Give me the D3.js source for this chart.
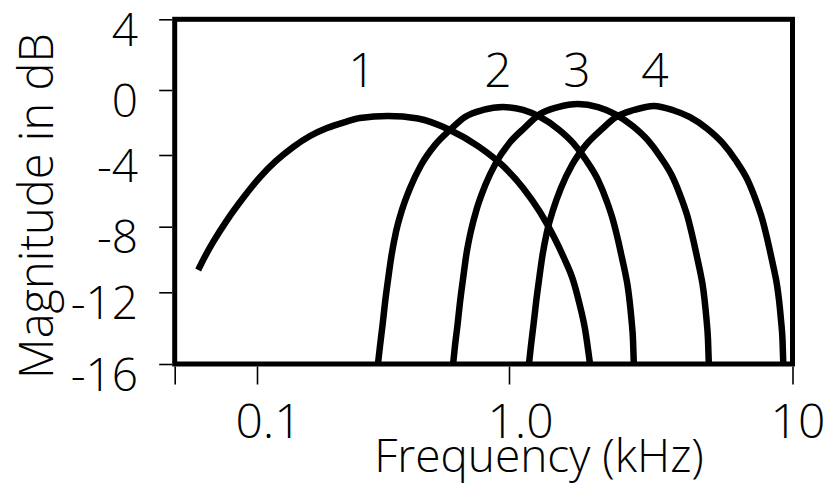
<!DOCTYPE html>
<html>
<head>
<meta charset="utf-8">
<script src="https://cdn.jsdelivr.net/npm/d3@7"></script>
<style>
  html, body { margin: 0; padding: 0; background: #fff; }
  svg { display: block; }
  svg text { font-family: "Open Sans", "Noto Sans", sans-serif; font-weight: 300; }
</style>
</head>
<body>
<svg id="chart" width="827" height="484"></svg>
<script>
// Band-pass filter responses (frequency in kHz, magnitude in dB)
const curveNames = ["1", "2", "3", "4"];

const freq1 = [0.0583, 0.0622, 0.0669, 0.0760, 0.0880, 0.1028, 0.1190, 0.139, 0.1623, 0.1896,
               0.2235, 0.2563, 0.331, 0.4354, 0.583, 0.7534, 0.947, 1.121, 1.286, 1.441,
               1.563, 1.682, 1.766, 1.854, 1.931];
const mag1  = [-10.64, -9.79, -8.93, -7.63, -6.40, -5.23, -4.33, -3.51, -2.83, -2.34,
               -1.97, -1.72, -1.60, -1.75, -2.46, -3.45, -4.61, -5.84, -7.18, -8.63,
               -9.91, -11.25, -12.54, -14.05, -16];

const freq2 = [0.302, 0.308, 0.315, 0.322, 0.331, 0.342, 0.356, 0.376, 0.405, 0.448, 0.509,
               0.583, 0.669, 0.789, 0.947,
               1.121, 1.286, 1.489, 1.682, 1.869, 2.060, 2.217, 2.327, 2.424, 2.504, 2.566,
               2.618, 2.661, 2.705, 2.738, 2.756];
const mag2  = [-16, -14.94, -13.82, -12.60, -11.25, -9.73, -8.32, -7.07, -5.84, -4.56, -3.38,
               -2.46, -1.66, -1.23, -1.05,
               -1.23, -1.66, -2.40, -3.26, -4.28, -5.39, -6.62, -7.63, -8.81, -9.91, -10.76,
               -11.55, -12.43, -13.55, -14.66, -16];

const freq3 = [0.600, 0.611, 0.625, 0.639, 0.657, 0.678, 0.707, 0.746, 0.803, 0.888, 1.008,
               1.139, 1.286, 1.489, 1.751,
               2.060, 2.365, 2.738, 3.093, 3.437, 3.789, 4.076, 4.280, 4.457, 4.604, 4.718,
               4.815, 4.894, 4.974, 5.034, 5.068];
const mag3  = [-16, -14.93, -13.80, -12.56, -11.19, -9.65, -8.23, -6.97, -5.72, -4.43, -3.22,
               -2.30, -1.48, -1.05, -0.86,
               -1.05, -1.48, -2.23, -3.10, -4.15, -5.27, -6.52, -7.53, -8.73, -9.84, -10.70,
               -11.50, -12.39, -13.52, -14.64, -16];

const freq4 = [1.176, 1.196, 1.220, 1.245, 1.276, 1.313, 1.361, 1.430, 1.525, 1.668, 1.869,
               2.111, 2.385, 2.760, 3.248,
               3.773, 4.332, 5.015, 5.664, 6.295, 6.940, 7.464, 7.839, 8.162, 8.432, 8.641,
               8.817, 8.962, 9.108, 9.220, 9.280];
const mag4  = [-16, -14.94, -13.82, -12.60, -11.25, -9.73, -8.32, -7.07, -5.84, -4.56, -3.38,
               -2.46, -1.66, -1.23, -0.98,
               -1.23, -1.66, -2.40, -3.26, -4.28, -5.39, -6.62, -7.63, -8.81, -9.91, -10.76,
               -11.55, -12.43, -13.55, -14.66, -16];

const curveFreqs = [freq1, freq2, freq3, freq4];
const curveMags  = [mag1, mag2, mag3, mag4];
const labelFreqs = [0.261, 0.904, 1.737, 3.273];

// Axes
const xTickValues = [0.047, 0.1, 1, 10];
const xTickLabels = ["", "0.1", "1.0", "10"];
const yTickValues = [4, 0, -4, -8, -12, -16];
const yTickLabels = ["4", "0", "-4", "-8", "-12", "-16"];
const xTitle = "Frequency (kHz)";
const yTitle = "Magnitude in dB";

const svg = d3.select("#chart");

const plotLeft = 174.7, plotRight = 792.5, plotTop = 19.3, plotBottom = 364;

const x = d3.scaleLog()
  .domain([0.047, 0.1, 1, 10])
  .range([plotLeft, 257, 509, plotRight]);

const y = d3.scaleLinear()
  .domain([4, 0, -4, -8, -12, -16])
  .range([plotTop, 90, 155, 226.7, 292.3, plotBottom]);

// x axis ticks and labels
const xAxis = svg.append("g")
  .attr("transform", `translate(0,${plotBottom + 2.5})`)
  .call(d3.axisBottom(x).tickValues(xTickValues)
        .tickFormat((d, i) => xTickLabels[i]).tickSize(18));
xAxis.attr("font-family", null).attr("font-size", null);
xAxis.select(".domain").remove();
xAxis.selectAll(".tick line").attr("stroke", "#000").attr("stroke-width", 1.6);
xAxis.selectAll(".tick text")
  .attr("fill", "#000")
  .attr("font-size", 48)
  .attr("y", 71.5)
  .attr("dy", 0)
  .attr("dx", (d, i) => i === xTickValues.length - 1 ? 5 : 11);

// y axis ticks and labels
const yAxis = svg.append("g")
  .attr("transform", `translate(${plotLeft - 2.5},0)`)
  .call(d3.axisLeft(y).tickValues(yTickValues)
        .tickFormat((d, i) => yTickLabels[i]).tickSize(13));
yAxis.attr("font-family", null).attr("font-size", null);
yAxis.select(".domain").remove();
yAxis.selectAll(".tick line").attr("stroke", "#000").attr("stroke-width", 1.6);
yAxis.selectAll(".tick text")
  .attr("fill", "#000")
  .attr("font-size", 46)
  .attr("x", 138 - (plotLeft - 2.5))
  .attr("dy", 26);

// plot frame
svg.append("rect")
  .attr("x", plotLeft).attr("y", plotTop)
  .attr("width", plotRight - plotLeft).attr("height", plotBottom - plotTop)
  .attr("fill", "none")
  .attr("stroke", "#000")
  .attr("stroke-width", 5);

// response curves
const line = d3.line()
  .x(d => x(d[0]))
  .y(d => y(d[1]))
  .curve(d3.curveMonotoneX);

curveNames.forEach((name, k) => {
  const pts = curveFreqs[k].map((f, i) => [f, curveMags[k][i]]);
  svg.append("path")
    .datum(pts)
    .attr("fill", "none")
    .attr("stroke", "#000")
    .attr("stroke-width", 6.5)
    .attr("stroke-linecap", "butt")
    .attr("stroke-linejoin", "round")
    .attr("d", line);
  svg.append("text")
    .attr("x", x(labelFreqs[k]))
    .attr("y", y(0) - 3)
    .attr("text-anchor", "middle")
    .attr("font-size", 48)
    .attr("fill", "#000")
    .text(name);
});

// axis titles
svg.append("text")
  .attr("x", 539).attr("y", 472)
  .attr("text-anchor", "middle")
  .attr("font-size", 46)
  .attr("fill", "#000")
  .text(xTitle);

svg.append("text")
  .attr("transform", "translate(53,206) rotate(-90)")
  .attr("text-anchor", "middle")
  .attr("font-size", 47)
  .attr("fill", "#000")
  .text(yTitle);
</script>
</body>
</html>
